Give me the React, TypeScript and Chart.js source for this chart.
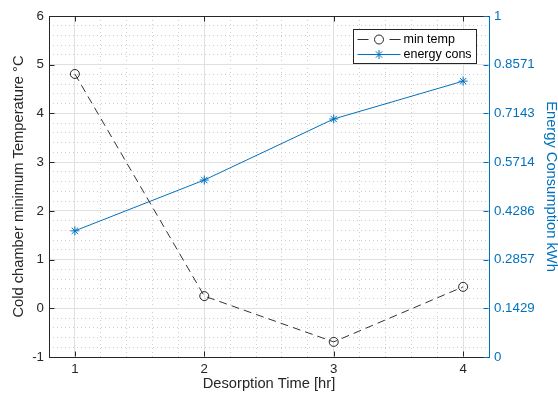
import React, { useEffect, useRef } from 'react';
import { Chart, registerables } from 'chart.js';

Chart.register(...registerables);

// ---- data ----
const desorptionHours = [1, 2, 3, 4];
const minTemp = [4.81, 0.25, -0.69, 0.44];
const energyCons = [0.37, 0.519, 0.698, 0.809];
const seriesNames = ['min temp', 'energy cons'];

// ---- ticks ----
const xTickValues = [1, 2, 3, 4];
const leftTickValues = [-1, 0, 1, 2, 3, 4, 5, 6];
const rightTickValues = [0, 0.1429, 0.2857, 0.4286, 0.5714, 0.7143, 0.8571, 1];
const rightTickLabels = ['0', '0.1429', '0.2857', '0.4286', '0.5714', '0.7143', '0.8571', '1'];

const FONT = "'Liberation Sans', Arial, Helvetica, sans-serif";
const DARK = '#262626';
const BLUE = '#0072BD';
const MAJOR_GRID = '#e0e0e0';
const MINOR_GRID = '#cdcdcd';

const isInteger = (v: number) => Math.abs(v - Math.round(v)) < 1e-6;

const matlabAxes = {
  id: 'matlabAxes',
  afterDatasetsDraw(chart: any) {
    const { ctx, chartArea: a, scales } = chart;
    const len = 5;
    const L = Math.round(a.left) + 0.5;
    const R = Math.round(a.right) - 0.5;
    const T = Math.round(a.top) + 0.5;
    const B = Math.round(a.bottom) - 0.5;
    ctx.save();
    ctx.lineWidth = 1;
    ctx.setLineDash([]);
    ctx.strokeStyle = DARK;
    ctx.beginPath();
    ctx.moveTo(a.left, T);
    ctx.lineTo(a.right, T);
    scales.x.ticks.forEach((t: any) => {
      const px = Math.round(scales.x.getPixelForValue(t.value)) + 0.5;
      ctx.moveTo(px, B);
      ctx.lineTo(px, B - len);
      ctx.moveTo(px, T);
      ctx.lineTo(px, T + len);
    });
    scales.y.ticks.forEach((t: any) => {
      const py = Math.round(scales.y.getPixelForValue(t.value)) + 0.5;
      ctx.moveTo(L, py);
      ctx.lineTo(L + len, py);
    });
    ctx.stroke();
    ctx.strokeStyle = BLUE;
    ctx.beginPath();
    scales.y2.ticks.forEach((t: any) => {
      const py = Math.round(scales.y2.getPixelForValue(t.value)) + 0.5;
      ctx.moveTo(R, py);
      ctx.lineTo(R - len, py);
    });
    ctx.stroke();
    ctx.restore();
  },
};

const drawStar = (ctx: CanvasRenderingContext2D, x: number, y: number, r: number) => {
  ctx.beginPath();
  ctx.moveTo(x - r, y);
  ctx.lineTo(x + r, y);
  ctx.moveTo(x, y - r);
  ctx.lineTo(x, y + r);
  const d = r * Math.SQRT1_2;
  ctx.moveTo(x - d, y - d);
  ctx.lineTo(x + d, y + d);
  ctx.moveTo(x - d, y + d);
  ctx.lineTo(x + d, y - d);
  ctx.stroke();
};

const matlabLegend = {
  id: 'matlabLegend',
  afterDraw(chart: any) {
    const { ctx, chartArea: a } = chart;
    const bx = Math.round(a.right) - 136 + 0.5;
    const by = Math.round(a.top) + 13 + 0.5;
    const bw = 123;
    const bh = 34;
    ctx.save();
    ctx.fillStyle = '#ffffff';
    ctx.fillRect(bx, by, bw, bh);
    ctx.lineWidth = 1;
    ctx.strokeStyle = DARK;
    ctx.setLineDash([]);
    ctx.strokeRect(bx, by, bw, bh);

    const x0 = bx + 4;
    const x1 = bx + 47;
    const mx = bx + 25.5;
    const y1 = by + 10;
    const y2 = by + 25;

    // row 1: dashed line + circle
    ctx.strokeStyle = '#333333';
    ctx.beginPath();
    ctx.moveTo(x0, y1);
    ctx.lineTo(x0 + 11, y1);
    ctx.moveTo(x1 - 11, y1);
    ctx.lineTo(x1, y1);
    ctx.stroke();
    ctx.strokeStyle = DARK;
    ctx.beginPath();
    ctx.arc(mx, y1, 4.5, 0, Math.PI * 2);
    ctx.stroke();

    // row 2: solid blue line + star
    ctx.strokeStyle = BLUE;
    ctx.beginPath();
    ctx.moveTo(x0, y2);
    ctx.lineTo(x1, y2);
    ctx.stroke();
    drawStar(ctx, mx, y2, 4.5);

    ctx.fillStyle = '#000000';
    ctx.font = `12.5px ${FONT}`;
    ctx.textBaseline = 'middle';
    ctx.textAlign = 'left';
    ctx.fillText(seriesNames[0], bx + 50, y1);
    ctx.fillText(seriesNames[1], bx + 50, y2);
    ctx.restore();
  },
};

export default function App() {
  const ref = useRef<HTMLCanvasElement>(null);
  useEffect(() => {
    document.body.style.margin = '0';
    const canvas = ref.current;
    if (!canvas) return;
    const chart = new Chart(canvas, {
      type: 'line',
      data: {
        datasets: [
          {
            label: seriesNames[0],
            data: desorptionHours.map((h, i) => ({ x: h, y: minTemp[i] })),
            xAxisID: 'x',
            yAxisID: 'y',
            borderColor: '#333333',
            borderWidth: 1,
            borderDash: [8, 5],
            pointStyle: 'circle',
            pointRadius: 4.5,
            pointBorderColor: DARK,
            pointBackgroundColor: 'rgba(0,0,0,0)',
            pointBorderWidth: 1,
            tension: 0,
            fill: false,
          },
          {
            label: seriesNames[1],
            data: desorptionHours.map((h, i) => ({ x: h, y: energyCons[i] })),
            xAxisID: 'x',
            yAxisID: 'y2',
            borderColor: BLUE,
            borderWidth: 1,
            pointStyle: 'star',
            pointRadius: 4.5,
            pointBorderColor: BLUE,
            pointBackgroundColor: BLUE,
            pointBorderWidth: 1,
            tension: 0,
            fill: false,
          },
        ],
      },
      options: {
        responsive: false,
        animation: false,
        events: [],
        layout: { padding: { top: 16, left: 0, right: 0, bottom: 0 } },
        plugins: { legend: { display: false }, tooltip: { enabled: false } },
        scales: {
          xMinor: {
            type: 'linear',
            position: 'bottom',
            min: 0.8,
            max: 4.2,
            ticks: { display: false, stepSize: 0.2, maxTicksLimit: 100 },
            afterBuildTicks: (s: any) => {
              s.ticks = s.ticks.filter((t: any) => !isInteger(t.value) && t.value > s.min + 1e-6 && t.value < s.max - 1e-6);
            },
            grid: { color: MINOR_GRID, drawTicks: false, lineWidth: 1 },
            border: { display: false, dash: [1, 3] },
            afterFit: (s: any) => { s.height = 0; },
          },
          yMinor: {
            type: 'linear',
            position: 'left',
            min: -1,
            max: 6,
            ticks: { display: false, stepSize: 0.2, maxTicksLimit: 100 },
            afterBuildTicks: (s: any) => {
              s.ticks = s.ticks.filter((t: any) => !isInteger(t.value) && t.value > s.min + 1e-6 && t.value < s.max - 1e-6);
            },
            grid: { color: MINOR_GRID, drawTicks: false, lineWidth: 1 },
            border: { display: false, dash: [1, 3] },
            afterFit: (s: any) => { s.width = 0; },
          },
          x: {
            type: 'linear',
            position: 'bottom',
            min: 0.8,
            max: 4.2,
            afterBuildTicks: (s: any) => { s.ticks = xTickValues.map((v) => ({ value: v })); },
            ticks: {
              callback: (v: any) => String(v),
              font: { family: FONT, size: 13.3 },
              color: DARK,
              padding: 4,
              maxRotation: 0,
              autoSkip: false,
            },
            grid: { color: MAJOR_GRID, drawTicks: false, lineWidth: 1 },
            border: { color: DARK, width: 1 },
            title: {
              display: true,
              text: 'Desorption Time [hr]',
              font: { family: FONT, size: 14.7 },
              color: DARK,
              padding: { top: 0, bottom: 4 },
            },
            afterFit: (s: any) => { s.height = 40; },
          },
          y: {
            type: 'linear',
            position: 'left',
            min: -1,
            max: 6,
            afterBuildTicks: (s: any) => { s.ticks = leftTickValues.map((v) => ({ value: v })); },
            ticks: {
              callback: (v: any) => String(v),
              font: { family: FONT, size: 13.3 },
              color: DARK,
              padding: 5,
              autoSkip: false,
            },
            grid: { color: MAJOR_GRID, drawTicks: false, lineWidth: 1 },
            border: { color: DARK, width: 1 },
            title: {
              display: true,
              text: 'Cold chamber minimum Temperature °C',
              font: { family: FONT, size: 14.7 },
              color: DARK,
              padding: { top: 10, bottom: 0 },
            },
            afterFit: (s: any) => { s.width = 49; },
          },
          y2: {
            type: 'linear',
            position: 'right',
            min: 0,
            max: 1,
            afterBuildTicks: (s: any) => { s.ticks = rightTickValues.map((v) => ({ value: v })); },
            ticks: {
              callback: (_v: any, i: number) => rightTickLabels[i],
              font: { family: FONT, size: 13.3 },
              color: BLUE,
              padding: 5,
              autoSkip: false,
            },
            grid: { display: false, drawTicks: false },
            border: { color: BLUE, width: 1 },
            title: {
              display: true,
              text: 'Energy Consumption kWh',
              font: { family: FONT, size: 14.7 },
              color: BLUE,
              padding: { top: -2, bottom: 0 },
            },
            afterFit: (s: any) => { s.width = 69; },
          },
        },
      },
      plugins: [matlabAxes, matlabLegend],
    } as any);
    return () => chart.destroy();
  }, []);

  return (
    <div style={{ width: 558, height: 397 }}>
      <canvas ref={ref} width={558} height={397} style={{ display: 'block' }} />
    </div>
  );
}
